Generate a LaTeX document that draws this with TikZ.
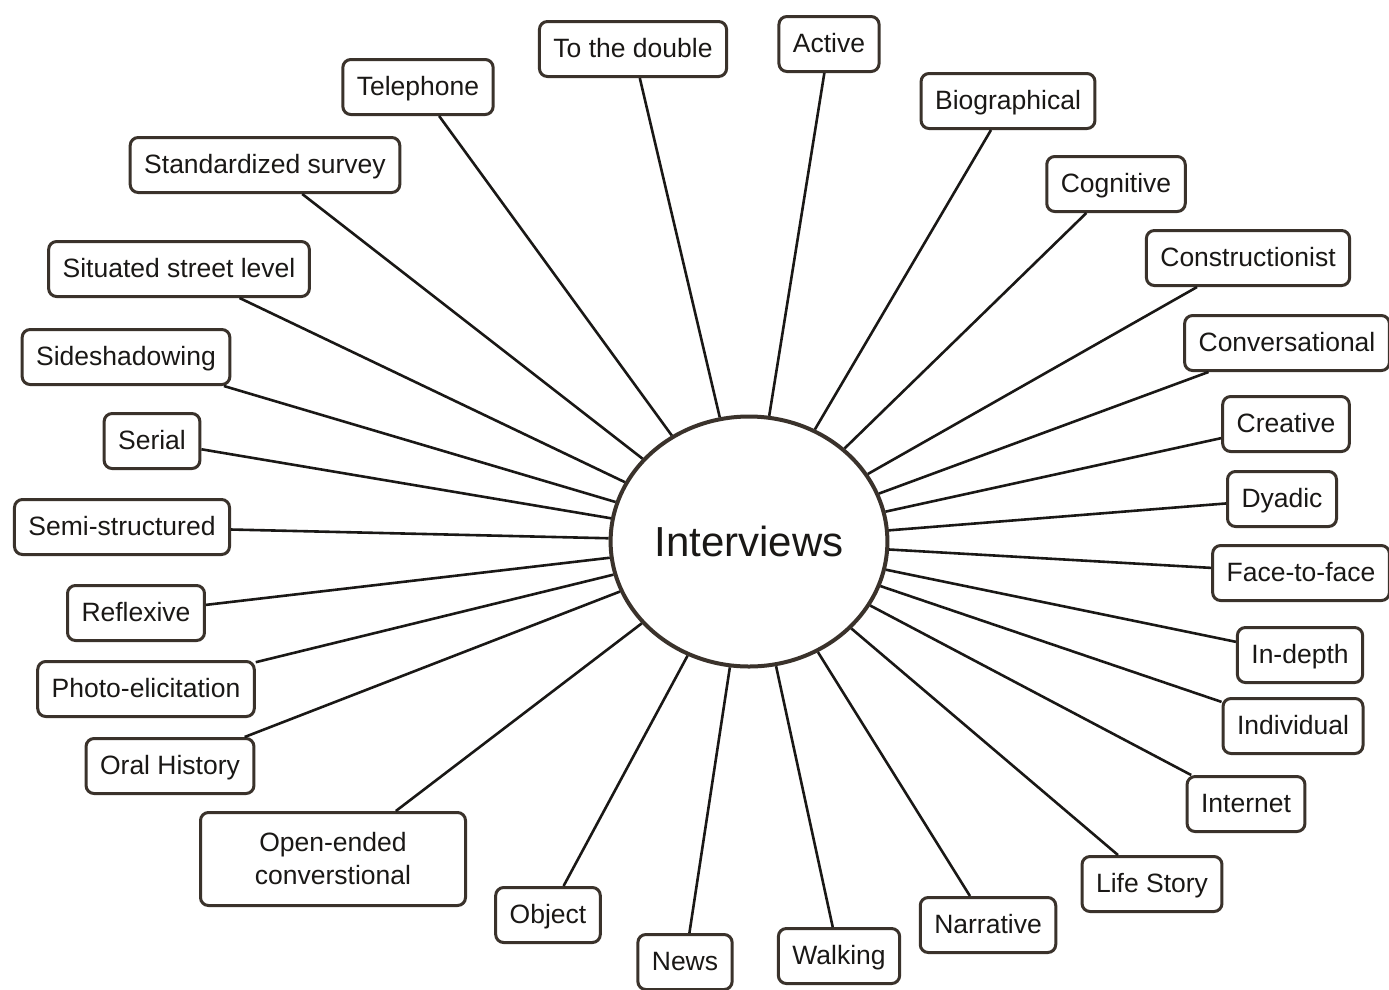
\documentclass[tikz,border=0pt]{standalone}
\usepackage{fontspec}
\setmainfont{Liberation Sans}
\usetikzlibrary{shapes.geometric}

\definecolor{rim}{RGB}{58,50,43}
\definecolor{ink}{RGB}{26,24,22}

\begin{document}
\begin{tikzpicture}[
    x=1pt, y=-1pt,
    hub/.style={ellipse, draw=rim, line width=4pt, fill=white, minimum width=275pt, minimum height=250pt,
        text=ink, font=\fontsize{42}{48}\selectfont},
    item/.style={rectangle, rounded corners=8pt, draw=rim, line width=3pt, fill=white, text=ink,
        inner xsep=14pt, minimum height=55pt, font=\fontsize{26.5}{33}\selectfont},
    kind/.style={item, text height=21pt, text depth=4pt},
    link/.style={draw=ink, line width=2.6pt}
]
\useasboundingbox (0,0) rectangle (1389,989);

% Centre
\node[hub] (hub) at (749,541.5) {Interviews};

% Top and left half
\node[kind] (double) at (633,49) {To the double};
\node[kind] (active) at (829,44) {Active};
\node[kind] (phone) at (418,87) {Telephone};
\node[kind] (survey) at (265,165) {Standardized survey};
\node[kind] (street) at (179,269) {Situated street level};
\node[kind] (side) at (126,357) {Sideshadowing};
\node[kind] (serial) at (152,441) {Serial};
\node[kind] (semi) at (122,527) {Semi-structured};
\node[kind] (reflex) at (136,613) {Reflexive};
\node[kind] (photo) at (146,689) {Photo-elicitation};
\node[kind] (oral) at (170,766) {Oral History};
\node[item, align=center, minimum width=265pt, minimum height=93pt] (open) at (333,859) {Open-ended\\converstional};
\node[kind] (object) at (548,915) {Object};
\node[kind] (news) at (685,962) {News};

% Right half
\node[kind] (bio) at (1008,101) {Biographical};
\node[kind] (cogn) at (1116,184) {Cognitive};
\node[kind] (constr) at (1248,258) {Constructionist};
\node[kind] (conv) at (1287,343) {Conversational};
\node[kind] (creative) at (1286,424) {Creative};
\node[kind] (dyadic) at (1282,499) {Dyadic};
\node[kind] (face) at (1301,573) {Face-to-face};
\node[kind] (depth) at (1300,655) {In-depth};
\node[kind] (indiv) at (1293,726) {Individual};
\node[kind] (net) at (1246,804) {Internet};
\node[kind] (life) at (1152,884) {Life Story};
\node[kind] (narr) at (988,925) {Narrative};
\node[kind] (walk) at (839,956) {Walking};

% Spokes
\foreach \t in {double,active,phone,survey,street,side,serial,semi,reflex,photo,oral,open,object,news,
    bio,cogn,constr,conv,creative,dyadic,face,depth,indiv,net,life,narr,walk} {
    \draw[link] (\t) -- (hub);
}

\end{tikzpicture}
\end{document}
